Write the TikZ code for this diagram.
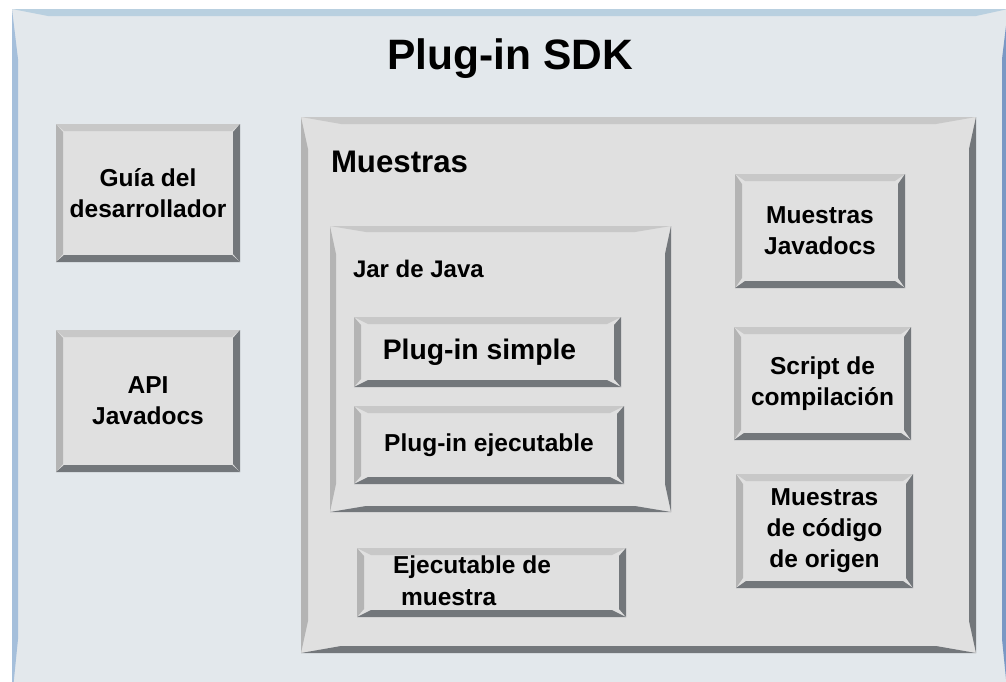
\documentclass[tikz,border=0pt]{standalone}
\usepackage{fontspec}
\setmainfont{Liberation Sans}
\usetikzlibrary{calc}

\definecolor{sdkbg}{HTML}{E3E8EC}
\definecolor{sdktop}{HTML}{B9D0E0}
\definecolor{sdkleft}{HTML}{A5BFDB}
\definecolor{sdkright}{HTML}{7A98C4}
\definecolor{facegray}{HTML}{E0E0E0}
\definecolor{bvlight}{HTML}{C8C8C8}
\definecolor{bvmid}{HTML}{B4B4B4}
\definecolor{bvdark}{HTML}{73777B}

% bevelled frame round a rectangular node: #1 node, #2 band width,
% #3 taper of the top/bottom bands, #4 taper of the side bands
\newcommand\bevel[4]{%
  \fill[bvlight] (#1.north west) -- (#1.north east) -- ($(#1.north east)+(-#3,#2)$) -- ($(#1.north west)+(#3,#2)$) -- cycle;
  \fill[bvmid] (#1.north west) -- ($(#1.north west)+(#2,#4)$) -- ($(#1.south west)+(#2,-#4)$) -- (#1.south west) -- cycle;
  \fill[bvdark] (#1.north east) -- (#1.south east) -- ($(#1.south east)+(-#2,-#4)$) -- ($(#1.north east)+(-#2,#4)$) -- cycle;
  \fill[bvdark] (#1.south west) -- (#1.south east) -- ($(#1.south east)+(-#3,-#2)$) -- ($(#1.south west)+(#3,-#2)$) -- cycle;
}

\tikzset{
  face/.style={fill=facegray, inner sep=0pt, outer sep=0pt, align=center,
    font=\fontsize{24.5}{31}\selectfont\bfseries},
  caption/.style={inner sep=0pt, outer sep=0pt, anchor=base west},
}

\begin{document}
\begin{tikzpicture}[x=1pt, y=-1pt]
\path[use as bounding box, clip] (0,0) rectangle (1006,681);
\fill[white] (0,0) rectangle (1006,681);

% outer SDK panel
\node[fill=sdkbg, inner sep=0pt, outer sep=0pt, minimum width=996, minimum height=690] (sdk) at (510,354) {};
\fill[sdktop] (sdk.north west) -- (sdk.north east) -- ($(sdk.north east)+(-32,7)$) -- ($(sdk.north west)+(36,7)$) -- cycle;
\fill[sdkleft] (sdk.north west) -- ($(sdk.north west)+(6,50)$) -- ($(sdk.south west)+(6,-60)$) -- (sdk.south west) -- cycle;
\fill[sdkright] (sdk.north east) -- (sdk.south east) -- ($(sdk.south east)+(-6,-60)$) -- ($(sdk.north east)+(-6,50)$) -- cycle;
\node[caption, anchor=base, font=\fontsize{42.5}{50}\selectfont\bfseries] (title) at (510,69) {Plug-in SDK};

% left column
\node[face, minimum width=184, minimum height=138] (guia) at (148,193) {Guía del\\desarrollador};
\bevel{guia}{7}{8}{8}
\node[face, minimum width=184, minimum height=142] (api) at (148,401) {API\\Javadocs};
\bevel{api}{7}{8}{8}

% samples frame
\node[face, minimum width=675, minimum height=536] (muestras) at (638.5,385) {};
\bevel{muestras}{7}{40}{32}
\node[caption, font=\fontsize{31.2}{36}\selectfont\bfseries] (muestrastxt) at (331,172) {Muestras};

% Java jar frame
\node[face, minimum width=341, minimum height=286] (jar) at (500.5,369) {};
\bevel{jar}{6}{36}{28}
\node[caption, font=\fontsize{24}{30}\selectfont\bfseries] (jartxt) at (353,277) {Jar de Java};

\node[face, minimum width=267, minimum height=70, font=\fontsize{28.3}{31}\selectfont\bfseries] (simple) at (487.5,352) {\hspace*{-16pt}Plug-in simple};
\bevel{simple}{7}{14}{8}
\node[face, minimum width=270, minimum height=78] (ejec) at (489,445) {Plug-in ejecutable};
\bevel{ejec}{7}{14}{8}

\node[face, minimum width=269, minimum height=69] (ejm) at (491.5,582.5) {};
\bevel{ejm}{7}{14}{8}
\node[caption, align=left, font=\fontsize{24.5}{32}\selectfont\bfseries] (ejmtxt) at (393,605) {Ejecutable de\\\hspace*{8pt}muestra};

% right column
\node[face, minimum width=170, minimum height=114] (mjava) at (820,231) {Muestras\\Javadocs};
\bevel{mjava}{7}{10}{10}
\node[face, minimum width=177, minimum height=113] (script) at (822.5,383.5) {Script de\\compilación};
\bevel{script}{7}{10}{10}
\node[face, minimum width=177, minimum height=114] (mcod) at (824.5,531) {Muestras\\de código\\de origen};
\bevel{mcod}{7}{10}{10}
\end{tikzpicture}
\end{document}
